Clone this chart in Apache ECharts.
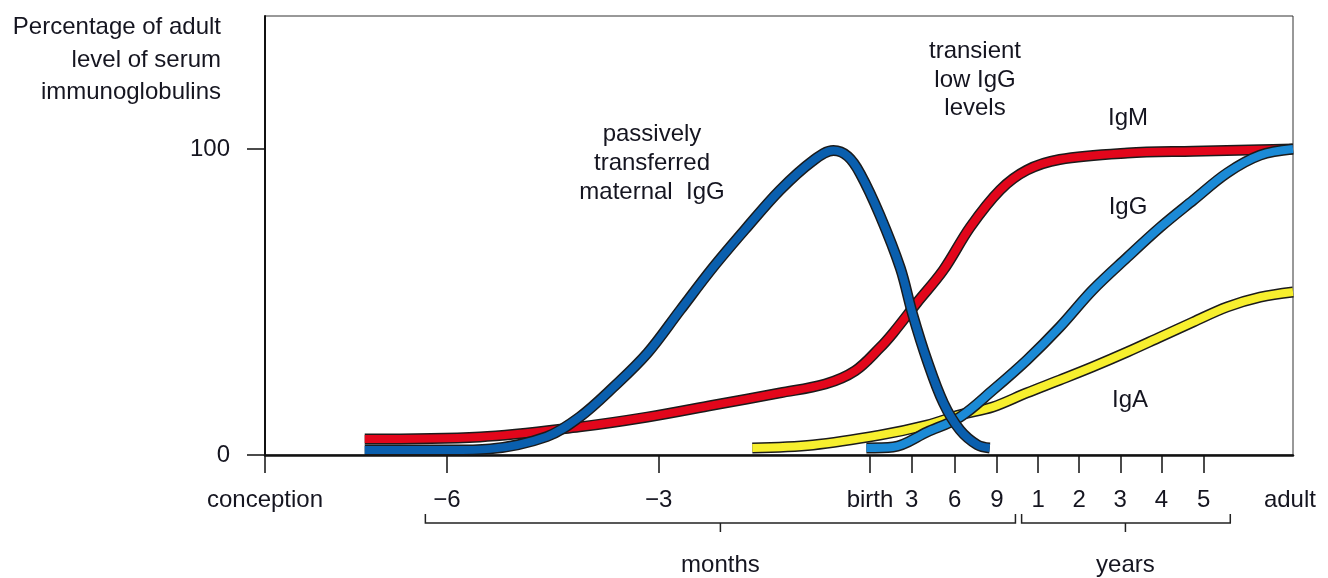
<!DOCTYPE html>
<html><head><meta charset="utf-8">
<script src="https://cdn.jsdelivr.net/npm/echarts@6/dist/echarts.min.js"></script>
<style>html,body{margin:0;padding:0;background:#fff}#c{width:1328px;height:578px}</style>
</head><body><div id="c"></div>
<script>
// Schematic time axis: 0 = conception, 100 = adult (not linear in real time)
var tickPositions = [0, 17.7, 38.3, 58.85, 62.9, 67.1, 71.2, 75.2, 79.2, 83.2, 87.2, 91.3];
var labelPositions = [0, 17.7, 38.3, 58.85, 62.9, 67.1, 71.2, 75.2, 79.2, 83.2, 87.2, 91.3, 99.7];
var tickLabels = ['conception', '\u22126', '\u22123', 'birth', '3', '6', '9', '1', '2', '3', '4', '5', 'adult'];
var yTicks = [0, 100];

// Series: [schematic time, % of adult level]
var maternalIgG = [[9.7,1.6],[13.1,1.6],[18.0,1.6],[21.9,2.0],[27.4,6.0],[30.6,12.4],[33.9,22.2],[37.2,33.3],[40.4,47.4],[43.6,61.4],[46.9,74.5],[50.1,86.6],[53.3,96.2],[55.3,99.5],[56.7,97.6],[57.9,92.0],[59.8,78.5],[61.8,61.1],[63.0,46.0],[64.4,31.0],[66.0,17.0],[67.6,8.2],[69.3,3.3],[70.5,2.3]];
var IgM = [[9.7,5.2],[20.9,5.9],[30.6,9.2],[37.2,12.4],[43.6,16.3],[50.1,20.3],[54.5,23.2],[57.4,27.5],[59.8,35.0],[61.1,39.9],[63.4,49.7],[66.0,60.5],[68.6,74.5],[71.5,86.6],[74.1,93.1],[77.3,96.6],[83.9,98.7],[90.3,99.3],[96.8,99.8],[100,100]];
var IgG = [[58.5,2.3],[61.1,2.6],[64.4,7.5],[67.6,12.4],[70.8,21.2],[74.1,31.0],[77.3,41.8],[80.5,53.9],[83.9,64.7],[87.1,74.5],[90.3,83.3],[93.6,92.2],[96.8,98.0],[100,100]];
var IgA = [[47.4,2.3],[53.3,3.3],[59.8,6.5],[64.4,9.8],[67.6,13.1],[70.8,15.7],[74.1,20.3],[77.3,24.5],[80.5,28.8],[83.9,33.7],[87.1,38.6],[90.3,43.5],[93.6,48.4],[96.8,51.6],[100,53.3]];

var brackets = [
  {label: 'months', from: 15.6, to: 73.0, mid: 44.3},
  {label: 'years', from: 73.6, to: 93.9, mid: 83.7}
];

var FONT = "'Liberation Sans', Arial, sans-serif";
var FS = 24;
var TXT = '#151520';

var chart = echarts.init(document.getElementById('c'), null, {renderer: 'canvas'});

function curve(name, data, color, z) {
  return [
    {type: 'line', name: name + '-edge', data: data, smooth: 0.35, showSymbol: false, silent: true,
     lineStyle: {color: '#1b1b1b', width: 11, cap: 'butt', join: 'round'}, z: z},
    {type: 'line', name: name, data: data, smooth: 0.35, showSymbol: false, silent: true,
     lineStyle: {color: color, width: 8, cap: 'butt', join: 'round'}, z: z}
  ];
}

var series = [].concat(
  curve('IgA', IgA, '#f7ef2e', 2),
  curve('IgM', IgM, '#e2061b', 3),
  curve('IgG', IgG, '#1b8ad6', 4),
  curve('maternal IgG', maternalIgG, '#0a5fae', 5)
);

chart.setOption({
  animation: false,
  grid: {left: 265, right: 35, top: 16, bottom: 123, show: true, borderColor: '#333', borderWidth: 1},
  xAxis: {
    type: 'value', min: 0, max: 100,
    splitLine: {show: false},
    axisLine: {lineStyle: {color: '#111', width: 2.5}},
    axisTick: {customValues: tickPositions, length: 18, lineStyle: {color: '#111', width: 1.5}},
    axisLabel: {
      customValues: labelPositions, margin: 33, color: TXT, fontSize: FS, fontFamily: FONT,
      formatter: function (v) {
        for (var i = 0; i < labelPositions.length; i++) if (Math.abs(labelPositions[i] - v) < 1e-6) return tickLabels[i];
        return '';
      }
    }
  },
  yAxis: {
    type: 'value', min: 0, max: 143.5,
    splitLine: {show: false},
    axisLine: {lineStyle: {color: '#111', width: 2}},
    axisTick: {customValues: yTicks, length: 18, lineStyle: {color: '#111', width: 1.5}},
    axisLabel: {customValues: yTicks, margin: 35, color: TXT, fontSize: FS, fontFamily: FONT}
  },
  series: series
});

// annotations and brackets
var g = [];
function txt(x, y, s, align) {
  g.push({type: 'text', x: x, y: y, style: {text: s, fill: TXT, font: FS + 'px ' + FONT, textAlign: align || 'center', textVerticalAlign: 'middle'}, z: 10});
}
txt(221, 27, 'Percentage of adult', 'right');
txt(221, 60, 'level of serum', 'right');
txt(221, 92, 'immunoglobulins', 'right');
txt(652, 134, 'passively');
txt(652, 163, 'transferred');
txt(652, 192, 'maternal  IgG');
txt(975, 51, 'transient');
txt(975, 80, 'low IgG');
txt(975, 108, 'levels');
txt(1128, 118, 'IgM');
txt(1128, 207, 'IgG');
txt(1130, 400, 'IgA');

var yBr = 523;
brackets.forEach(function (b) {
  var x1 = chart.convertToPixel({xAxisIndex: 0}, b.from);
  var x2 = chart.convertToPixel({xAxisIndex: 0}, b.to);
  var xm = chart.convertToPixel({xAxisIndex: 0}, b.mid);
  g.push({type: 'polyline', shape: {points: [[x1, yBr - 9], [x1, yBr], [x2, yBr], [x2, yBr - 9]]}, style: {stroke: '#222', lineWidth: 1.5, fill: null}});
  g.push({type: 'line', shape: {x1: xm, y1: yBr, x2: xm, y2: yBr + 9}, style: {stroke: '#222', lineWidth: 1.5}});
  txt(xm, 565, b.label);
});
chart.setOption({graphic: g});
</script></body></html>
